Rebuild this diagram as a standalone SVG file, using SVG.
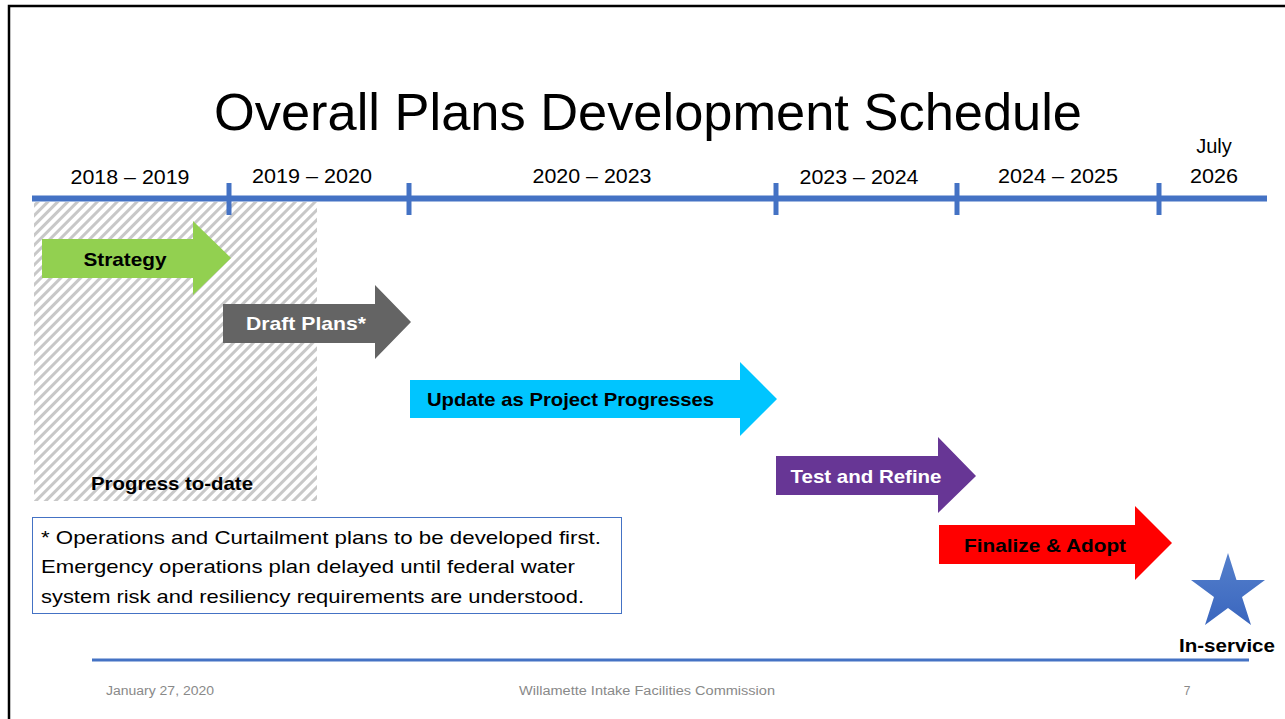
<svg xmlns="http://www.w3.org/2000/svg" width="1285" height="719" viewBox="0 0 1285 719">
<defs>
<pattern id="hatch" width="7" height="7" patternUnits="userSpaceOnUse" patternTransform="rotate(45)">
<rect width="7" height="7" fill="#ffffff"/>
<rect width="3" height="7" fill="#c8c8c8"/>
</pattern>
<linearGradient id="starg" x1="0" y1="0" x2="0" y2="1">
<stop offset="0" stop-color="#5580cc"/>
<stop offset="1" stop-color="#3a66be"/>
</linearGradient>
<style>
text{font-family:"Liberation Sans",Arial,sans-serif}
.yr{font-size:20px;fill:#000}
.lbl{font-size:19px;font-weight:bold}
.note{font-size:19px;fill:#000}
.foot{font-size:12px;fill:#898989}
.tick{stroke:#4472c4;stroke-width:5}
</style>
</defs>
<rect x="0" y="0" width="1285" height="719" fill="#ffffff"/>
<path d="M9,719 V6 H1285" fill="none" stroke="#000" stroke-width="2.5"/>
<text x="648" y="130" text-anchor="middle" font-size="52" textLength="868" lengthAdjust="spacingAndGlyphs">Overall Plans Development Schedule</text>

<g id="progress">
<rect x="34" y="202" width="283" height="299" fill="url(#hatch)"/>
<text x="172" y="490" text-anchor="middle" class="lbl" textLength="162" lengthAdjust="spacingAndGlyphs">Progress to-date</text>
</g>

<g id="timeline">
<line x1="32" y1="198.5" x2="1267" y2="198.5" stroke="#4472c4" stroke-width="6"/>
<line class="tick" x1="229" y1="183" x2="229" y2="215"/>
<line class="tick" x1="409" y1="183" x2="409" y2="215"/>
<line class="tick" x1="776" y1="183" x2="776" y2="215"/>
<line class="tick" x1="957" y1="183" x2="957" y2="215"/>
<line class="tick" x1="1159" y1="183" x2="1159" y2="215"/>
<text class="yr" x="130" y="184" text-anchor="middle" textLength="119" lengthAdjust="spacingAndGlyphs">2018 – 2019</text>
<text class="yr" x="312" y="183" text-anchor="middle" textLength="120" lengthAdjust="spacingAndGlyphs">2019 – 2020</text>
<text class="yr" x="592" y="183" text-anchor="middle" textLength="119" lengthAdjust="spacingAndGlyphs">2020 – 2023</text>
<text class="yr" x="859" y="184" text-anchor="middle" textLength="119" lengthAdjust="spacingAndGlyphs">2023 – 2024</text>
<text class="yr" x="1058" y="183" text-anchor="middle" textLength="120" lengthAdjust="spacingAndGlyphs">2024 – 2025</text>
<text class="yr" x="1214" y="153" text-anchor="middle">July</text>
<text class="yr" x="1214" y="183" text-anchor="middle" textLength="48" lengthAdjust="spacingAndGlyphs">2026</text>
</g>

<g id="strategy">
<polygon points="42,239 193,239 193,221 231,258 193,295 193,278 42,278" fill="#92d050"/>
<text x="125" y="266" text-anchor="middle" class="lbl" fill="#000" textLength="83" lengthAdjust="spacingAndGlyphs">Strategy</text>
</g>
<g id="draft">
<polygon points="223,304 375,304 375,285 411,322 375,359 375,343 223,343" fill="#646464"/>
<text x="306" y="330" text-anchor="middle" class="lbl" fill="#ffffff" textLength="120" lengthAdjust="spacingAndGlyphs">Draft Plans*</text>
</g>
<g id="update">
<polygon points="410,380 740,380 740,362 777,399 740,436 740,418 410,418" fill="#00c5ff"/>
<text x="427" y="406" class="lbl" fill="#000" textLength="287" lengthAdjust="spacingAndGlyphs">Update as Project Progresses</text>
</g>
<g id="test">
<polygon points="776,456 938,456 938,437 976,476 938,513 938,495 776,495" fill="#673695"/>
<text x="866" y="483" text-anchor="middle" class="lbl" fill="#ffffff" textLength="151" lengthAdjust="spacingAndGlyphs">Test and Refine</text>
</g>
<g id="finalize">
<polygon points="939,525 1135,525 1135,506 1172,543 1135,580 1135,564 939,564" fill="#ff0000"/>
<text x="1045" y="552" text-anchor="middle" class="lbl" fill="#000" textLength="162" lengthAdjust="spacingAndGlyphs">Finalize &amp; Adopt</text>
</g>
<g id="inservice">
<polygon points="1228,553 1236.5,580 1265,580 1242,597 1251,625 1228,608 1205,625 1214,597 1191,580 1219.5,580" fill="url(#starg)"/>
<text x="1227" y="652" text-anchor="middle" class="lbl" fill="#000" textLength="96" lengthAdjust="spacingAndGlyphs">In-service</text>
</g>

<g id="note">
<rect x="32.5" y="517.5" width="589" height="96" fill="#ffffff" stroke="#4472c4" stroke-width="1"/>
<text class="note" x="41" y="544" textLength="560" lengthAdjust="spacingAndGlyphs">* Operations and Curtailment plans to be developed first.</text>
<text class="note" x="41" y="573" textLength="534" lengthAdjust="spacingAndGlyphs">Emergency operations plan delayed until federal water</text>
<text class="note" x="41" y="603" textLength="543" lengthAdjust="spacingAndGlyphs">system risk and resiliency requirements are understood.</text>
</g>

<g id="footer">
<line x1="92" y1="660" x2="1249" y2="660" stroke="#4472c4" stroke-width="3"/>
<text class="foot" x="106" y="695" textLength="108" lengthAdjust="spacingAndGlyphs">January 27, 2020</text>
<text class="foot" x="647" y="695" text-anchor="middle" textLength="256" lengthAdjust="spacingAndGlyphs">Willamette Intake Facilities Commission</text>
<text class="foot" x="1187" y="695" text-anchor="middle">7</text>
</g>
</svg>
